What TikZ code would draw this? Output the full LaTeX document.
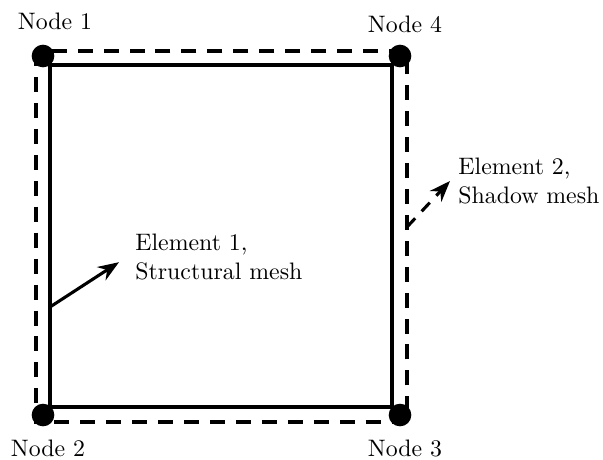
\documentclass[tikz,border=0pt]{standalone}
\usepackage{amsfonts,amssymb,amsmath}
\usepackage{tikz}
\usetikzlibrary{arrows.meta,arrows}

\tikzset{
meshnode/.style={shape=circle,fill=black,inner sep=0pt,minimum size=9.5pt},
structural/.style={line width=1.7pt},
shadow/.style={line width=1.7pt,dash pattern=on 6.3pt off 4.6pt},
}

\begin{document}
\begin{tikzpicture}[x=0.42pt,y=-0.42pt,>=Stealth]
\useasboundingbox(0,0)rectangle(603,459);
\draw[shadow](36,51)rectangle(407,422);
\draw[structural](50,65)rectangle(392,407);
\node[meshnode](n1)at(43,56){};
\node[meshnode](n2)at(43,415){};
\node[meshnode](n3)at(400,415){};
\node[meshnode](n4)at(400,56){};
\node(l1)at(55,21){Node 1};
\node(l2)at(48,448){Node 2};
\node(l3)at(405,448){Node 3};
\node(l4)at(405,24){Node 4};
\node[align=left,anchor=west](e1)at(127,257){Element 1,\\Structural mesh};
\node[align=left,anchor=west](e2)at(450,181){Element 2,\\Shadow mesh};
\coordinate(s1)at(50,307);
\coordinate(s2)at(407,227);
\draw[->,line width=1.3pt,shorten >=4pt](s1)--(e1.west);
\draw[->,line width=1.3pt,dash pattern=on 5pt off 4pt](s2)--(e2.west);
\end{tikzpicture}
\end{document}
